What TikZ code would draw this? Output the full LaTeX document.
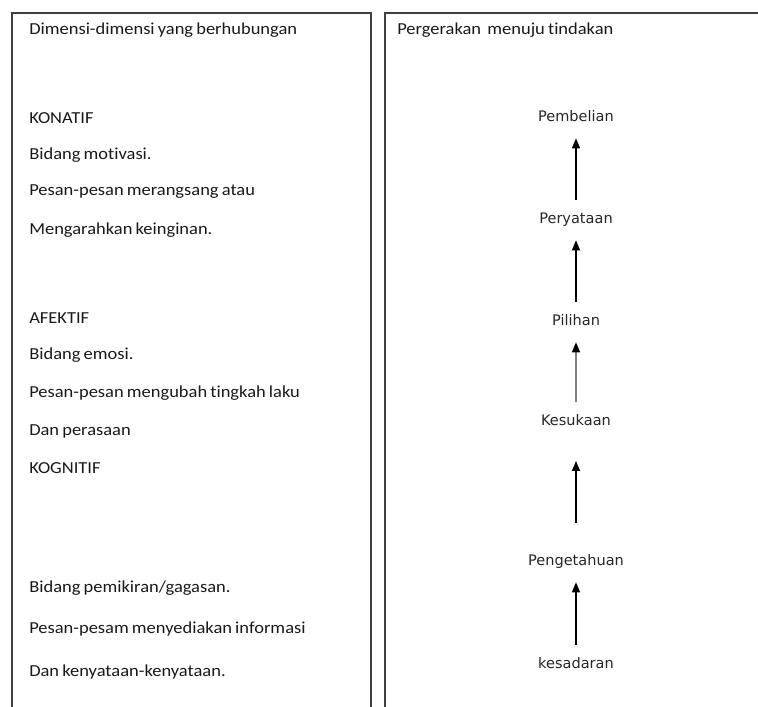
\documentclass[tikz,border=0pt]{standalone}
\usepackage{fontspec}
\setmainfont[FakeStretch=1.1, WordSpace=0.75, Ligatures={NoCommon}]{Carlito}
\newfontfamily\stagefont{DejaVu Sans}
\usetikzlibrary{arrows.meta, positioning}

\begin{document}
\begin{tikzpicture}[x=0.75pt, y=-0.75pt,
    panel/.style={draw=black!75, line width=1.1pt},
    dimline/.style={anchor=west, inner sep=0pt, text=black!90, font=\fontsize{12.6}{15}\selectfont},
    stage/.style={inner xsep=2pt, inner ysep=9.75pt, text height=8pt, text depth=2.5pt,
        text=black!85, font=\stagefont\fontsize{10.9}{13}\selectfont},
    upward/.style={-{Triangle[width=6pt, length=7.5pt]}, line width=0.85pt}]
    \useasboundingbox (0,0) rectangle (758,707);
    \clip (0,0) rectangle (758,707);

    % Two panels, open at the bottom of the page
    \draw[panel] (12,740) -- (12,13) -- (371,13) -- (371,740);
    \draw[panel] (385,740) -- (385,13) -- (790,13) -- (790,740);

    % Left panel: dimensions
    \node[dimline] (dimhead) at (29,30) {Dimensi-dimensi yang berhubungan};

    \node[dimline] (konatif) at (29,118) {KONATIF};
    \node[dimline] (kon1) at (29,155) {Bidang motivasi.};
    \node[dimline] (kon2) at (29,192) {Pesan-pesan merangsang atau};
    \node[dimline] (kon3) at (29,230) {Mengarahkan keinginan.};

    \node[dimline] (afektif) at (29,318) {AFEKTIF};
    \node[dimline] (afe1) at (29,355) {Bidang emosi.};
    \node[dimline] (afe2) at (29,393) {Pesan-pesan mengubah tingkah laku};
    \node[dimline] (afe3) at (29,431) {Dan perasaan};

    \node[dimline] (kognitif) at (29,468) {KOGNITIF};
    \node[dimline] (kog1) at (29,588) {Bidang pemikiran/gagasan.};
    \node[dimline] (kog2) at (29,629) {Pesan-pesam menyediakan informasi};
    \node[dimline] (kog3) at (29,672) {Dan kenyataan-kenyataan.};

    % Right panel: movement towards action
    \node[dimline] (movehead) at (397,30) {Pergerakan\ \ menuju tindakan};

    \node[stage] (pembelian) at (576,118) {Pembelian};
    \node[stage] (peryataan) at (576,220) {Peryataan};
    \node[stage] (pilihan) at (576,322) {Pilihan};
    \node[stage] (kesukaan) at (576,422) {Kesukaan};
    \node[stage] (pengetahuan) at (576,562) {Pengetahuan};
    \node[stage] (kesadaran) at (576,665) {kesadaran};

    \draw[upward] (kesadaran) -- (pengetahuan);
    \draw[upward, shorten <=14pt, shorten >=14pt] (pengetahuan) -- (kesukaan);
    \draw[upward, draw=black!50, line width=1.1pt, -{Triangle[width=6pt, length=7.5pt, black]}] (kesukaan) -- (pilihan);
    \draw[upward] (pilihan) -- (peryataan);
    \draw[upward] (peryataan) -- (pembelian);
\end{tikzpicture}
\end{document}
